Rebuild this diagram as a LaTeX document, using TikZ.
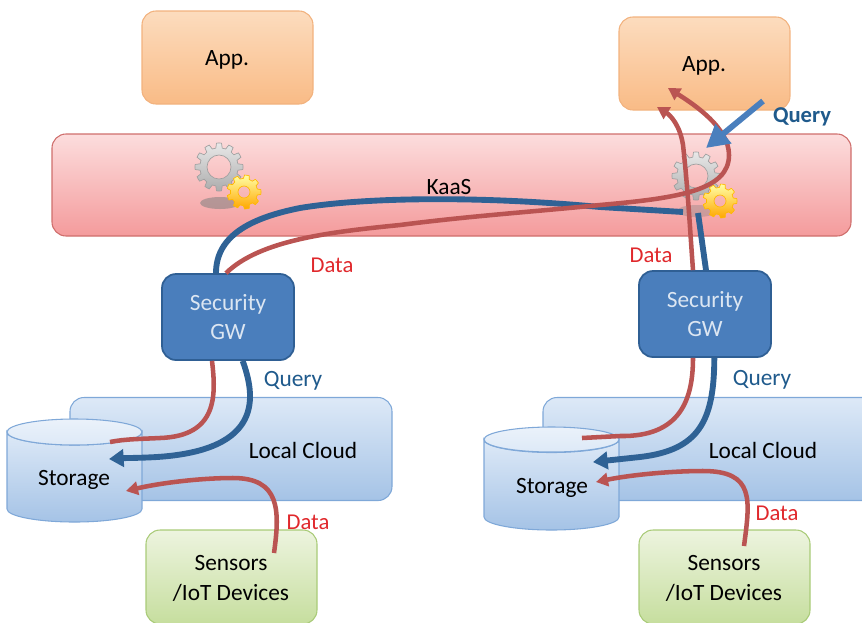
\documentclass[tikz,border=0pt]{standalone}
\usepackage{fontspec}
\setmainfont{Carlito}
\usetikzlibrary{arrows.meta,calc}
\definecolor{redline}{HTML}{BA5452}
\definecolor{blueline}{HTML}{2F6295}
\definecolor{bluearrow}{HTML}{4A7FBD}
\definecolor{datared}{HTML}{E0282C}
\definecolor{querybl}{HTML}{1F5A8C}
\definecolor{appedge}{HTML}{F2B27E}\definecolor{apptop}{HTML}{FCDCBE}\definecolor{appbot}{HTML}{F9BB86}
\definecolor{kaasedge}{HTML}{CF6E6C}\definecolor{kaastop}{HTML}{FCDDDD}\definecolor{kaasbot}{HTML}{F49B9C}
\definecolor{gwedge}{HTML}{2F5F94}\definecolor{gwfill}{HTML}{4A7EBC}\definecolor{gwtext}{HTML}{DCE6F2}
\definecolor{cloudedge}{HTML}{7FA8D8}\definecolor{cloudtop}{HTML}{DDE9F7}\definecolor{cloudbot}{HTML}{A5C3E6}
\definecolor{sensoredge}{HTML}{A9CB78}\definecolor{sensortop}{HTML}{EDF4DF}\definecolor{sensorbot}{HTML}{C6DE9E}
\tikzset{
  box/.style={rounded corners=10.5pt,inner sep=0pt,align=center,font=\fontsize{17.5}{21}\selectfont},
  appbox/.style={box,draw=appedge,top color=apptop,bottom color=appbot,line width=.8pt},
  kaasbox/.style={box,draw=kaasedge,top color=kaastop,bottom color=kaasbot,line width=.8pt},
  gwbox/.style={box,draw=gwedge,fill=gwfill,line width=1.3pt,text=gwtext},
  cloudbox/.style={box,draw=cloudedge,top color=cloudtop,bottom color=cloudbot,line width=.8pt},
  sensorbox/.style={box,draw=sensoredge,top color=sensortop,bottom color=sensorbot,line width=.8pt},
  redconn/.style={draw=redline,line width=3.4pt,-{Triangle[length=9pt,width=10pt]}},
  redplain/.style={draw=redline,line width=3.4pt},
  blueconn/.style={draw=blueline,line width=4.4pt,-{Triangle[length=11pt,width=13pt]}},
  blueplain/.style={draw=blueline,line width=4.4pt},
  querytip/.style={draw=bluearrow,line width=4.4pt,-{Triangle[length=17pt,width=18pt]}},
  datalabel/.style={font=\fontsize{17}{20}\selectfont,text=datared,inner sep=0pt},
  querylabel/.style={font=\fontsize{17.5}{20}\selectfont,text=querybl,inner sep=0pt},
  plainlabel/.style={font=\fontsize{17.5}{21}\selectfont,inner sep=0pt},
  gearsh/.style={top color=gray!18,bottom color=gray!65,draw=gray!75,line width=.5pt},
  gearye/.style={top color=yellow!35!white,bottom color=orange!70!yellow,draw=orange!55!yellow,line width=.5pt},
  cyl/.style={draw=cloudedge,line width=.8pt},
}
\newcommand{\mygear}[6]{% cx cy router rinner teeth style
  \path[#6,even odd rule] (#1,#2) ++(0:#3)
    \foreach \k in {1,...,#5}{
      -- ($(#1,#2)+({(\k-1)*360/#5+360/#5*0.20}:#3)$)
      -- ($(#1,#2)+({(\k-1)*360/#5+360/#5*0.32}:#3*0.80)$)
      -- ($(#1,#2)+({(\k-1)*360/#5+360/#5*0.68}:#3*0.80)$)
      -- ($(#1,#2)+({(\k-1)*360/#5+360/#5*0.80}:#3)$)
      -- ($(#1,#2)+({\k*360/#5}:#3)$)
    } -- cycle
    (#1,#2) circle[radius=#4];
}
\begin{document}
\begin{tikzpicture}[x=0.75pt,y=-0.75pt]
\useasboundingbox (0,0) rectangle (862,622);
\clip (0,0) rectangle (862,622);
% boxes
\node[appbox,minimum width=128.25pt,minimum height=69.75pt] (app1) at (227.5,57.5) {};
\node[appbox,minimum width=128.25pt,minimum height=69.75pt] (app2) at (704.5,63.5) {};
\node[plainlabel] (app1t) at (227,60) {App.};
\node[plainlabel] (app2t) at (704,66) {App.};
\node[kaasbox,minimum width=599.25pt,minimum height=76.5pt] (kaas) at (451.5,185) {};
% gears
\fill[gray,opacity=.55] (220,203) ellipse[x radius=20,y radius=6];
\fill[gray,opacity=.35] (697,211) ellipse[x radius=20,y radius=6];
\mygear{219}{167}{24}{12}{12}{gearsh}
\mygear{244}{192}{17}{6}{9}{gearye}
\mygear{696}{176}{24}{12}{12}{gearsh}
\mygear{720}{201}{17}{6}{9}{gearye}
% cloud
\node[cloudbox,minimum width=241.5pt,minimum height=77.25pt] (cloud1) at (231,449) {};
\node[cloudbox,minimum width=252pt,minimum height=77.25pt] (cloud2) at (711,449) {};
\node[plainlabel] (lc1) at (303,450) {Local Cloud};
\node[plainlabel] (lc2) at (763,450) {Local Cloud};
% storage cylinders
\path[cyl,top color=cloudtop,bottom color=cloudbot] (7,432) -- (7,509) arc[start angle=180,end angle=0,x radius=67.5,y radius=13] -- (142,432) arc[start angle=0,end angle=180,x radius=67.5,y radius=13] -- cycle;
\path[cyl,top color=cloudtop!60!white,bottom color=cloudtop] (74.5,432) ellipse[x radius=67.5,y radius=13];
\path[cyl,top color=cloudtop,bottom color=cloudbot] (484,439.5) -- (484,517) arc[start angle=180,end angle=0,x radius=67.5,y radius=13] -- (619,439.5) arc[start angle=0,end angle=180,x radius=67.5,y radius=13] -- cycle;
\path[cyl,top color=cloudtop!60!white,bottom color=cloudtop] (551.5,439.5) ellipse[x radius=67.5,y radius=12.5];
\node[plainlabel] (st1) at (74,480) {Storage};
\node[plainlabel] (st2) at (552,488) {Storage};
% security gateways
\node[gwbox,minimum width=99pt,minimum height=64.5pt] (gw1) at (228,317) {Security\\[1pt]GW};
\node[gwbox,minimum width=99pt,minimum height=64.5pt] (gw2) at (705,314) {Security\\[1pt]GW};
% sensors
\node[sensorbox,minimum width=128.25pt,minimum height=70.5pt] (sn1) at (231.5,577) {};
\node[sensorbox,minimum width=128.25pt,minimum height=70.5pt] (sn2) at (724.5,577) {};
\node[plainlabel,align=center] (sn1t) at (231,578) {Sensors\\[1.5pt]/IoT Devices};
\node[plainlabel,align=center] (sn2t) at (724,578) {Sensors\\[1.5pt]/IoT Devices};
% free ends
\coordinate (kaasin) at (683,212);
\coordinate (kaasout) at (698,213);
\coordinate (apptipa) at (668,88);
\coordinate (apptipb) at (657,107);
\coordinate (querystart) at (763,101);
\coordinate (querytipc) at (706,148);
\coordinate (s1a) at (110,442);
\coordinate (s1b) at (109,459);
\coordinate (s1c) at (126,491);
\coordinate (s2a) at (582,438);
\coordinate (s2b) at (593,462);
\coordinate (s2c) at (596,482);
\coordinate (sn1o) at (274,553);
\coordinate (sn2o) at (744,546);
% connectors top
\draw[blueplain] ([xshift=-9pt]gw1.north) .. controls (216,236) and (250,218) .. (300,208) .. controls (360,198) and (470,195) .. (600,207) -- (kaasin);
\draw[blueplain] ([xshift=0.75pt]gw2.north) -- (kaasout);
\draw[redconn] ([xshift=-1.5pt]gw1.north) .. controls (260,240) and (330,232) .. (400,225) .. controls (470,216) and (530,212) .. (600,205) .. controls (680,198) and (729,190) .. (729,155) .. controls (729,128) and (695,105) .. (apptipa);
\draw[redconn] ([xshift=-9pt]gw2.north) .. controls (690,230) and (688,190) .. (683,145) .. controls (680,125) and (670,115) .. (apptipb);
\draw[querytip] (querystart) -- (querytipc);
% connectors bottom
\draw[redplain] ([xshift=-12pt]gw1.south) .. controls (216,395) and (218,436) .. (160,438) .. controls (140,439) and (125,439) .. (s1a);
\draw[blueconn] ([xshift=11pt]gw1.south) .. controls (255,395) and (265,450) .. (157,457) .. controls (140,458) and (125,458) .. (s1b);
\draw[redconn] (sn1o) .. controls (280,510) and (280,478) .. (233,478) .. controls (200,478) and (160,483) .. (s1c);
\draw[redplain] ([xshift=-9pt]gw2.south) .. controls (693,400) and (680,437) .. (620,436) -- (s2a);
\draw[blueconn] ([xshift=7pt]gw2.south) .. controls (714,420) and (700,450) .. (640,457) -- (s2b);
\draw[redconn] (sn2o) .. controls (750,500) and (755,471) .. (703,471) .. controls (670,471) and (630,475) .. (s2c);
% labels
\node[plainlabel] (kaast) at (449,187) {KaaS};
\node[datalabel] (d1) at (332,265) {Data};
\node[datalabel] (d2) at (651,255) {Data};
\node[datalabel] (d3) at (308,522) {Data};
\node[datalabel] (d4) at (777,513) {Data};
\node[querylabel] (q1) at (293,381) {Query};
\node[querylabel] (q2) at (762,380) {Query};
\node[querylabel,font=\bfseries\fontsize{17}{20}\selectfont] (q3) at (802,117) {Query};
\end{tikzpicture}
\end{document}
